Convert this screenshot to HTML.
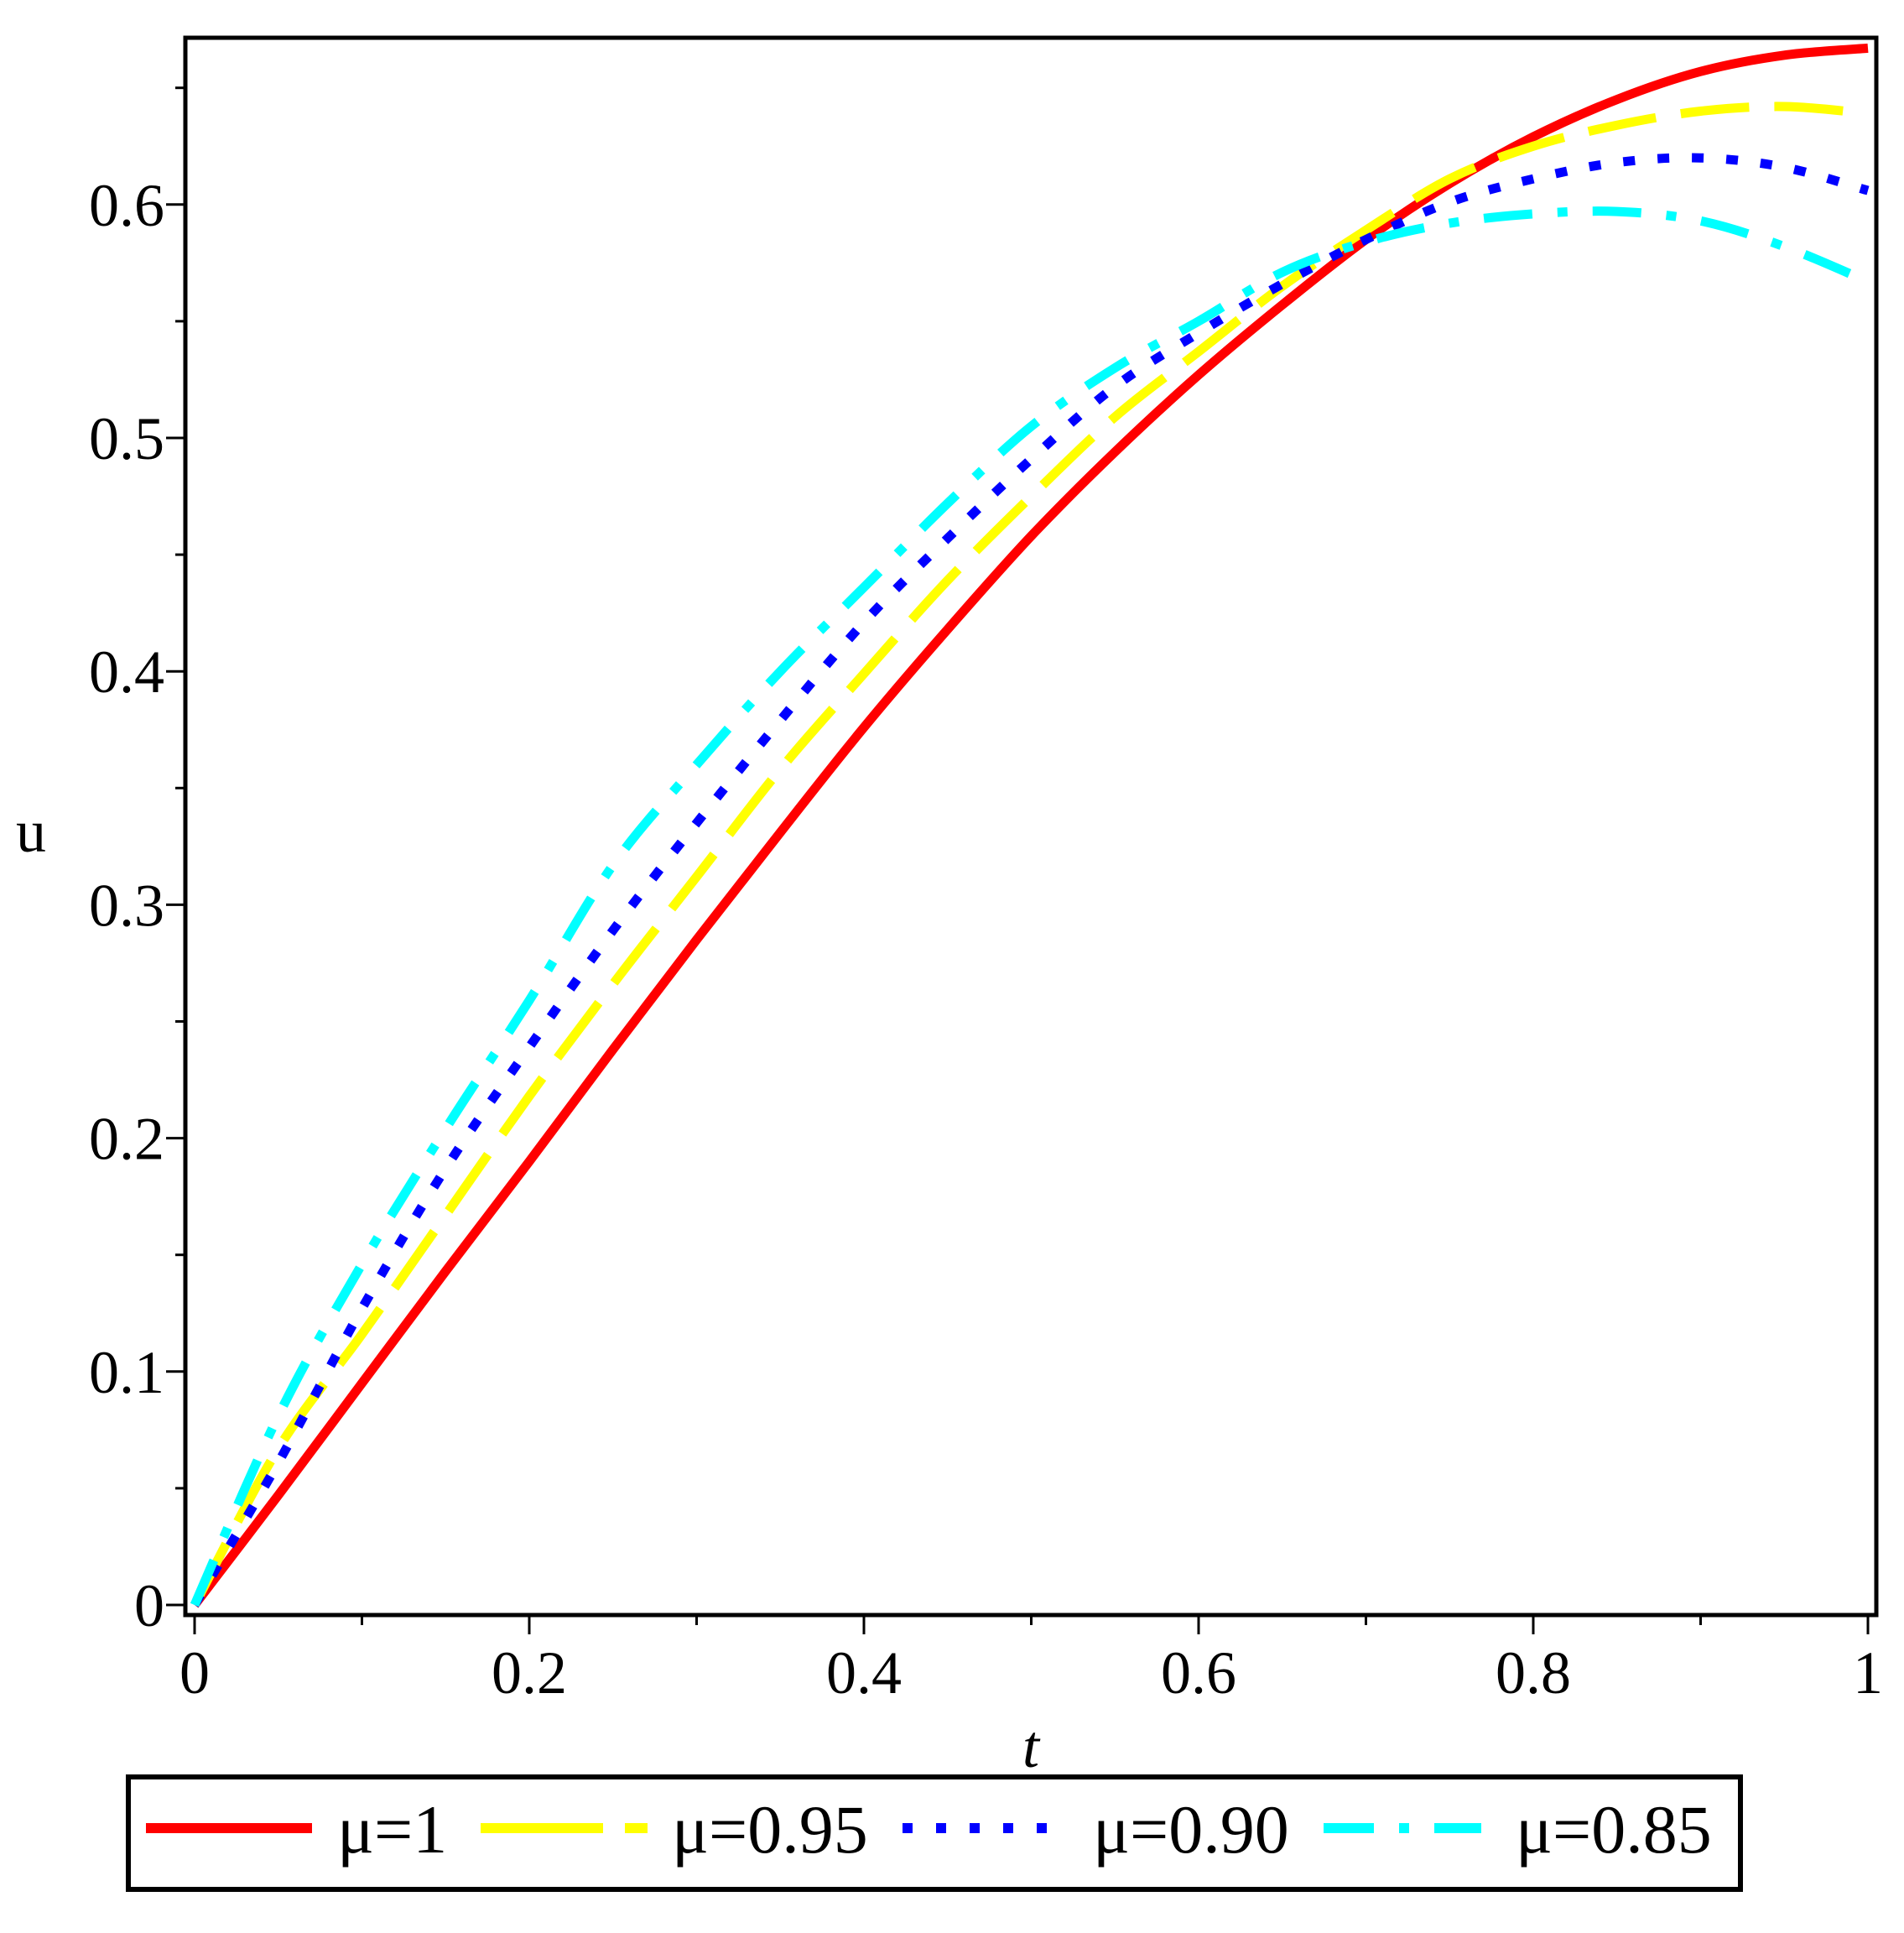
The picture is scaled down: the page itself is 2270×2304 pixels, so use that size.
<!DOCTYPE html>
<html><head><meta charset="utf-8"><style>
html,body{margin:0;padding:0;background:#fff;}
svg text{font-family:"Liberation Serif","DejaVu Serif",serif;fill:#000;}
</style></head><body>
<svg id="chart" width="2270" height="2299" viewBox="0 0 2270 2299" xmlns="http://www.w3.org/2000/svg">
<rect x="0" y="0" width="2270" height="2299" fill="#fff"/>
<g id="axes"></g>
<g id="series"></g>
<rect x="221" y="45" width="2016" height="1880" fill="none" stroke="#000" stroke-width="5"/>
<text x="37" y="1015" font-size="72" text-anchor="middle">u</text>
<text x="1229" y="2106" font-size="72" font-style="italic" text-anchor="middle">t</text>
<g>
<rect x="153" y="2118" width="1922" height="134" fill="#fff" stroke="#000" stroke-width="6"/>
<line x1="174" y1="2179" x2="372" y2="2179" stroke="#ff0000" stroke-width="12"/>
<text x="402" y="2208" font-size="82" style="font-family:'Liberation Serif',serif">μ=1</text>
<line x1="573" y1="2179" x2="772" y2="2179" stroke="#ffff00" stroke-width="12" stroke-dasharray="146,26,28,100"/>
<text x="801" y="2208" font-size="82" style="font-family:'Liberation Serif',serif">μ=0.95</text>
<line x1="1076" y1="2179" x2="1252" y2="2179" stroke="#0000ff" stroke-width="12" stroke-dasharray="12,28"/>
<text x="1303" y="2208" font-size="82" style="font-family:'Liberation Serif',serif">μ=0.90</text>
<line x1="1578" y1="2179" x2="1766" y2="2179" stroke="#00ffff" stroke-width="12" stroke-dasharray="60,30,12,30,60"/>
<text x="1807" y="2208" font-size="82" style="font-family:'Liberation Serif',serif">μ=0.85</text>
</g>
</svg>
<script>
const tValues = [0,0.05,0.1,0.15,0.2,0.25,0.3,0.35,0.4,0.45,0.5,0.55,0.6,0.65,0.7,0.75,0.8,0.85,0.9,0.95,1];
const seriesMu1 = [0,0.047,0.095,0.143,0.19,0.238,0.285,0.331,0.376,0.418,0.458,0.494,0.527,0.557,0.585,0.609,0.629,0.645,0.657,0.664,0.667];
const seriesMu095 = [0,0.067,0.116,0.167,0.218,0.266,0.312,0.358,0.399,0.439,0.475,0.509,0.537,0.565,0.589,0.611,0.625,0.634,0.640,0.642,0.639];
const seriesMu090 = [0,0.061,0.127,0.187,0.239,0.289,0.335,0.379,0.421,0.457,0.491,0.522,0.545,0.566,0.585,0.601,0.611,0.618,0.620,0.616,0.606];
const seriesMu085 = [0,0.081,0.146,0.204,0.259,0.317,0.36,0.40,0.436,0.472,0.505,0.530,0.55,0.571,0.584,0.592,0.596,0.597,0.593,0.582,0.567];
const xTickLabels = ["0","0.2","0.4","0.6","0.8","1"];
const yTickLabels = ["0","0.1","0.2","0.3","0.4","0.5","0.6"];

const NS = "http://www.w3.org/2000/svg";
const X0 = 232, X1 = 2227, Y0 = 1913, YPER = 2782;
function xs(t){ return X0 + t*(X1-X0); }
function ys(u){ return Y0 - u*YPER; }
function mk(tag, attrs, parent){ const e=document.createElementNS(NS,tag); for(const k in attrs) e.setAttribute(k,attrs[k]); parent.appendChild(e); return e; }

const axes = document.getElementById('axes');
for(let i=0;i<=10;i++){
  const t=i/10, major=(i%2===0);
  const l=mk('line',{x1:xs(t),x2:xs(t),y1:1925,y2:major?1948:1937,stroke:'#000','stroke-width':3},axes);
  
  
}
xTickLabels.forEach((lab,i)=>{
  const tx=mk('text',{x:xs(i*0.2),y:2018,'font-size':72,'text-anchor':'middle'},axes);
  tx.textContent=lab;
  
  
});
for(let i=0;i<=13;i++){
  const u=i*0.05, major=(i%2===0);
  const l=mk('line',{x1:major?198:209,x2:221,y1:ys(u),y2:ys(u),stroke:'#000','stroke-width':3},axes);
  
  
}
yTickLabels.forEach((lab,i)=>{
  const tx=mk('text',{x:196,y:ys(i*0.1)+25,'font-size':72,'text-anchor':'end'},axes);
  tx.textContent=lab;
  
  
});

const g = document.getElementById('series');
function path(vals){
  const p=vals.map((v,i)=>[xs(tValues[i]),ys(v)]);
  let d='M'+p[0][0].toFixed(1)+','+p[0][1].toFixed(1);
  for(let i=0;i<p.length-1;i++){
    const p0=p[Math.max(i-1,0)],p1=p[i],p2=p[i+1],p3=p[Math.min(i+2,p.length-1)];
    const c1x=p1[0]+(p2[0]-p0[0])/6,c1y=p1[1]+(p2[1]-p0[1])/6;
    const c2x=p2[0]-(p3[0]-p1[0])/6,c2y=p2[1]-(p3[1]-p1[1])/6;
    d+='C'+c1x.toFixed(1)+','+c1y.toFixed(1)+' '+c2x.toFixed(1)+','+c2y.toFixed(1)+' '+p2[0].toFixed(1)+','+p2[1].toFixed(1);
  }
  return d;
}
const defs=[
  {vals:seriesMu1,color:'#ff0000',dash:'',name:'line-mu-1'},
  {vals:seriesMu095,color:'#ffff00',dash:'82,30',name:'line-mu-095'},
  {vals:seriesMu090,color:'#0000ff',dash:'14,27',name:'line-mu-090'},
  {vals:seriesMu085,color:'#00ffff',dash:'58,30,12,30',name:'line-mu-085'}
];
defs.forEach(d=>{
  const p=mk('path',{d:path(d.vals),fill:'none',stroke:d.color,'stroke-width':11,'stroke-linejoin':'round'},g);
  if(d.dash) p.setAttribute('stroke-dasharray',d.dash);
  
  
});
</script>
</body></html>
